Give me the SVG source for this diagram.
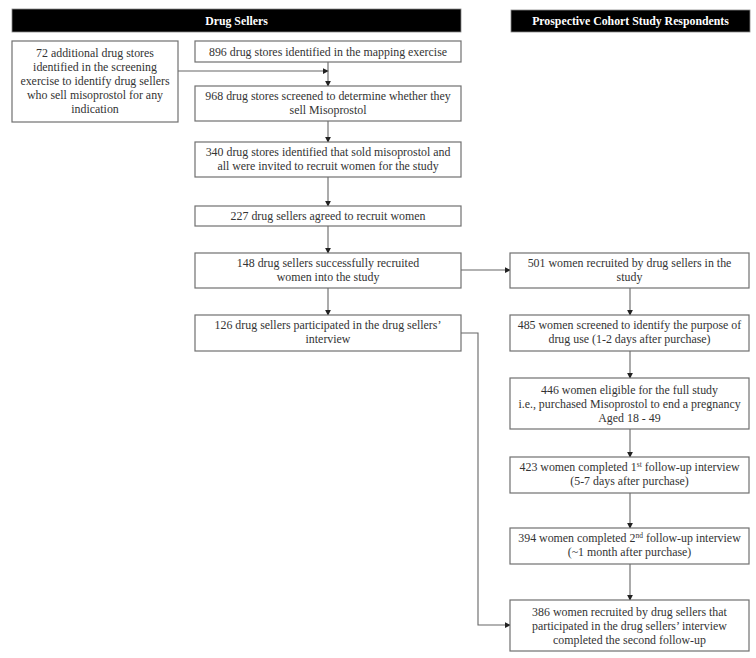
<svg xmlns="http://www.w3.org/2000/svg" width="756" height="658" viewBox="0 0 756 658">
<style>
.box{fill:#fff;stroke:#707070;stroke-width:1.2}
.hdr{fill:#000;stroke:#888;stroke-width:0.8}
.t{font-family:"Liberation Serif",serif;font-size:11.9px;fill:#333;text-anchor:middle}
.h{font-family:"Liberation Serif",serif;font-size:11.8px;font-weight:bold;fill:#fff;text-anchor:middle}
.c{fill:none;stroke:#666;stroke-width:1.1}
</style>
<defs>
<marker id="a" viewBox="0 0 8 8" refX="7" refY="4" markerWidth="6" markerHeight="6" orient="auto" markerUnits="userSpaceOnUse">
<path d="M0,0 L8,4 L0,8 z" fill="#222"/>
</marker>
</defs>
<rect width="756" height="658" fill="#fff"/>
<g id="hdr-sellers"><rect class="hdr" x="12" y="9" width="449" height="23"/><text class="h" x="236.5" y="24.5">Drug Sellers</text></g>
<g id="hdr-cohort"><rect class="hdr" x="511" y="10" width="239" height="22"/><text class="h" x="630.5" y="25">Prospective Cohort Study Respondents</text></g>
<g id="connectors">
<path class="c" d="M178,71 H328" marker-end="url(#a)"/>
<path class="c" d="M328,62 V86" marker-end="url(#a)"/>
<path class="c" d="M328,121 V142" marker-end="url(#a)"/>
<path class="c" d="M328,177 V206" marker-end="url(#a)"/>
<path class="c" d="M328,226 V253" marker-end="url(#a)"/>
<path class="c" d="M328,288 V315" marker-end="url(#a)"/>
<path class="c" d="M461,270 H510" marker-end="url(#a)"/>
<path class="c" d="M630,288 V315" marker-end="url(#a)"/>
<path class="c" d="M630,351 V378" marker-end="url(#a)"/>
<path class="c" d="M630,429 V457" marker-end="url(#a)"/>
<path class="c" d="M630,493 V528" marker-end="url(#a)"/>
<path class="c" d="M630,564 V600" marker-end="url(#a)"/>
<path class="c" d="M461,333 H478 V625 H510" marker-end="url(#a)"/>
</g>
<g id="n72"><rect class="box" x="12" y="41" width="166" height="81"/>
<text class="t" x="95" y="57">72 additional drug stores</text>
<text class="t" x="95" y="71">identified in the screening</text>
<text class="t" x="95" y="85">exercise to identify drug sellers</text>
<text class="t" x="95" y="99">who sell misoprostol for any</text>
<text class="t" x="95" y="113">indication</text></g>
<g id="n896"><rect class="box" x="195" y="41" width="266" height="21"/>
<text class="t" x="328" y="55.5">896 drug stores identified in the mapping exercise</text></g>
<g id="n968"><rect class="box" x="195" y="86" width="266" height="35"/>
<text class="t" x="328" y="100">968 drug stores screened to determine whether they</text>
<text class="t" x="328" y="114">sell Misoprostol</text></g>
<g id="n340"><rect class="box" x="195" y="142" width="266" height="35"/>
<text class="t" x="328" y="156">340 drug stores identified that sold misoprostol and</text>
<text class="t" x="328" y="170">all were invited to recruit women for the study</text></g>
<g id="n227"><rect class="box" x="195" y="206" width="266" height="20"/>
<text class="t" x="328" y="220">227 drug sellers agreed to recruit women</text></g>
<g id="n148"><rect class="box" x="195" y="253" width="266" height="35"/>
<text class="t" x="328" y="267">148 drug sellers successfully recruited</text>
<text class="t" x="328" y="281">women into the study</text></g>
<g id="n126"><rect class="box" x="195" y="315" width="266" height="36"/>
<text class="t" x="328" y="329">126 drug sellers participated in the drug sellers’</text>
<text class="t" x="328" y="343">interview</text></g>
<g id="n501"><rect class="box" x="510" y="253" width="239" height="35"/>
<text class="t" x="629.5" y="267">501 women recruited by drug sellers in the</text>
<text class="t" x="629.5" y="281">study</text></g>
<g id="n485"><rect class="box" x="510" y="315" width="239" height="36"/>
<text class="t" x="629.5" y="329">485 women screened to identify the purpose of</text>
<text class="t" x="629.5" y="343">drug use (1-2 days after purchase)</text></g>
<g id="n446"><rect class="box" x="510" y="378" width="239" height="51"/>
<text class="t" x="629.5" y="393.5">446 women eligible for the full study</text>
<text class="t" x="629.5" y="407.5">i.e., purchased Misoprostol to end a pregnancy</text>
<text class="t" x="629.5" y="421.5">Aged 18 - 49</text></g>
<g id="n423"><rect class="box" x="510" y="457" width="239" height="36"/>
<text class="t" x="629.5" y="471">423 women completed 1<tspan font-size="7.5" dy="-4">st</tspan><tspan dy="4"> follow-up interview</tspan></text>
<text class="t" x="629.5" y="485">(5-7 days after purchase)</text></g>
<g id="n394"><rect class="box" x="510" y="528" width="239" height="36"/>
<text class="t" x="629.5" y="542">394 women completed 2<tspan font-size="7.5" dy="-4">nd</tspan><tspan dy="4"> follow-up interview</tspan></text>
<text class="t" x="629.5" y="556">(~1 month after purchase)</text></g>
<g id="n386"><rect class="box" x="510" y="600" width="239" height="51"/>
<text class="t" x="629.5" y="615.5">386 women recruited by drug sellers that</text>
<text class="t" x="629.5" y="629.5">participated in the drug sellers’ interview</text>
<text class="t" x="629.5" y="643.5">completed the second follow-up</text></g>
</svg>
